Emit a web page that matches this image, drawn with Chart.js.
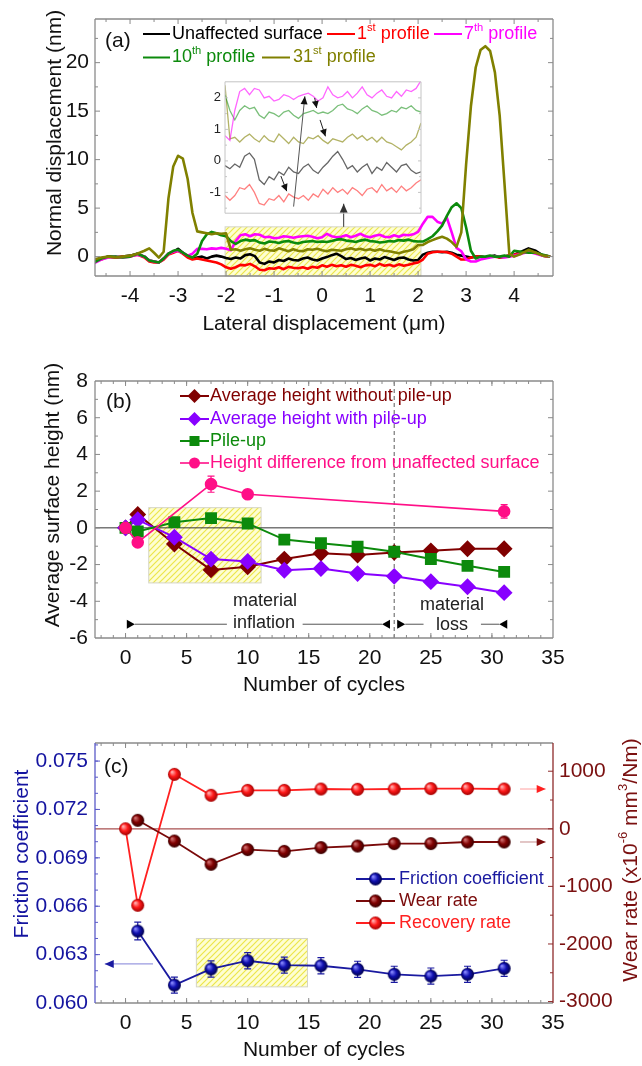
<!DOCTYPE html>
<html lang="en">
<head>
    <meta charset="UTF-8">
    <meta name="viewport" content="width=device-width, initial-scale=1.0">
    <title>Surface profiles, surface height and friction vs cycles</title>
    <script src="https://cdn.jsdelivr.net/npm/chart.js"></script>
    <style>
        body { margin: 0; background: #fff; }
        .figure { position: relative; width: 642px; height: 1066px; overflow: hidden; }
        .figure canvas { position: absolute; }
    </style>
</head>
<body>
    <div class="figure">
        <canvas id="chartA" width="642" height="340" style="left:0;top:0"></canvas>
        <canvas id="chartInset" width="235" height="155" style="left:195px;top:70px"></canvas>
        <canvas id="chartB" width="642" height="360" style="left:0;top:340px"></canvas>
        <canvas id="chartC" width="642" height="366" style="left:0;top:700px"></canvas>
    </div>

<script>
const FONT = '"Liberation Sans", Arial, Helvetica, sans-serif';

// ---- (a) line profiles (lateral position in um, height in nm) ----
const profileLeftX = [-4.75, -4.6, -4.45, -4.3, -4.15, -4.0, -3.85, -3.7, -3.6, -3.5, -3.4, -3.3, -3.2, -3.1, -3.0, -2.9, -2.8, -2.7, -2.6, -2.5, -2.4, -2.3, -2.2, -2.1];
const profileMidX = [-2.0, -1.9, -1.8, -1.7, -1.6, -1.5, -1.4, -1.3, -1.2, -1.1, -1.0, -0.9, -0.8, -0.7, -0.6, -0.5, -0.4, -0.3, -0.2, -0.1, 0.0,
    0.1, 0.2, 0.3, 0.4, 0.5, 0.6, 0.7, 0.8, 0.9, 1.0, 1.1, 1.2, 1.3, 1.4, 1.5, 1.6, 1.7, 1.8, 1.9, 2.0];
const profileRightX = [2.1, 2.2, 2.3, 2.4, 2.5, 2.6, 2.7, 2.8, 2.9, 3.0, 3.1, 3.2, 3.3, 3.4, 3.5, 3.6, 3.7, 3.8, 3.9, 4.0, 4.15, 4.3, 4.45, 4.6, 4.75];

const unaffectedLeft = [-0.6, -0.2, 0.0, -0.1, 0.0, 0.1, 0.3, 0.0, -0.4, -0.5, -0.6, -0.2, 0.3, 0.5, 0.8, 0.4, 0.0, -0.2, -0.1, 0.0, -0.2, 0.0, 0.1, 0.0];
const unaffectedMid = [-0.15, -0.25, -0.1, -0.2, 0.15, 0.25, 0.05, -0.6, -0.75, -0.5, -0.6, -0.35, -0.45, -0.2, -0.35, -0.4, -0.2, -0.1, -0.3, -0.4,
    -0.2, -0.05, 0.15, 0.3, 0.05, -0.25, -0.15, -0.35, -0.2, -0.1, -0.4, -0.2, -0.3, -0.05, -0.2, -0.35, -0.15, -0.1, -0.3, -0.4, -0.35];
const unaffectedRight = [0.2, 0.4, 0.5, 0.5, 0.45, 0.5, 0.4, 0.2, 0.1, 0.0, -0.1, 0.0, 0.0, -0.1, 0.0, 0.1, -0.1, 0.0, 0.1, 0.2, 0.5, 0.85, 0.6, 0.1, 0.0];

const firstLeft = [-0.5, -0.3, 0.0, -0.1, 0.0, 0.0, 0.2, -0.1, -0.5, -0.6, -0.6, -0.3, 0.2, 0.4, 0.6, 0.3, -0.1, -0.3, -0.2, -0.3, -0.4, -0.5, -0.6, -0.8];
const firstMid = [-1.1, -1.25, -1.1, -0.85, -0.9, -0.75, -1.0, -1.35, -1.4, -1.2, -1.25, -1.1, -1.3, -1.05, -1.15, -1.2, -1.1, -1.25, -1.05, -1.15,
    -0.9, -1.05, -0.85, -1.0, -0.9, -1.05, -0.85, -0.95, -1.1, -0.9, -0.85, -1.0, -0.75, -0.95, -0.85, -1.0, -0.8, -0.95, -0.85, -0.7, -0.6];
const firstRight = [-0.3, 0.3, 0.45, 0.5, 0.5, 0.45, 0.3, 0.0, -0.3, -0.3, -0.1, 0.0, 0.0, -0.1, 0.0, 0.0, -0.1, 0.0, 0.1, 0.2, 0.4, 0.5, 0.4, 0.1, 0.0];

const seventhLeft = [-0.7, -0.3, -0.1, 0.0, -0.1, 0.0, 0.2, 0.0, -0.4, -0.5, -0.6, -0.2, 0.3, 0.5, 0.6, 0.4, 0.1, 0.3, 0.8, 0.8, 0.75, 0.85, 0.8, 0.9];
const seventhMid = [0.8, 0.65, 1.6, 2.2, 2.3, 2.1, 2.3, 2.25, 2.0, 2.05, 1.9, 1.95, 2.1, 2.05, 1.95, 2.05, 2.1, 2.15, 2.05, 1.9,
    2.0, 2.35, 2.1, 2.0, 2.05, 2.2, 2.0, 2.15, 2.35, 2.1, 2.0, 2.15, 2.25, 2.05, 2.0, 2.2, 2.05, 2.25, 2.2, 2.3, 2.55];
const seventhRight = [3.4, 4.1, 4.1, 3.6, 3.4, 4.0, 2.5, 0.9, 0.55, -0.3, -0.5, -0.5, -0.3, -0.2, -0.1, 0.0, 0.0, -0.1, 0.0, 0.1, 0.3, 0.5, 0.3, 0.1, 0.0];

const tenthLeft = [-0.6, -0.2, 0.0, 0.0, -0.1, 0.0, 0.3, 0.0, -0.4, -0.5, -0.6, -0.2, 0.3, 0.6, 0.7, 0.4, 0.1, -0.1, 0.3, 1.6, 2.3, 2.55, 2.4, 2.2];
const tenthMid = [2.1, 1.6, 1.3, 1.6, 1.75, 1.65, 1.7, 1.45, 1.35, 1.55, 1.5, 1.4, 1.55, 1.6, 1.45, 1.35, 1.5, 1.55, 1.6, 1.5,
    1.55, 1.5, 1.6, 1.75, 1.8, 1.65, 1.6, 1.5, 1.65, 1.75, 1.6, 1.55, 1.45, 1.5, 1.6, 1.55, 1.7, 1.65, 1.75, 1.6, 1.55];
const tenthRight = [1.55, 1.8, 2.1, 2.6, 3.2, 4.2, 5.1, 5.5, 5.0, 3.0, 0.6, -0.2, 0.0, 0.0, 0.1, 0.0, 0.0, 0.1, 0.0, 0.6, 0.5, 0.4, 0.4, 0.2, 0.0];

const thirtyFirstLeft = [-0.3, -0.1, 0.0, -0.1, 0.0, 0.1, 0.3, 0.6, 0.85, 0.4, -0.1, 0.5, 6.0, 9.3, 10.4, 10.1, 8.0, 4.5, 2.6, 2.5, 2.4, 2.3, 2.4, 2.35];
const thirtyFirstMid = [2.4, 0.7, 0.75, 0.6, 0.75, 0.85, 0.7, 0.6, 0.8, 0.65, 0.6, 0.85, 0.7, 0.55, 0.75, 0.6, 0.55, 0.75, 0.7, 0.8,
    0.65, 0.55, 0.7, 0.65, 0.6, 0.75, 0.85, 0.7, 0.8, 0.65, 0.75, 0.6, 0.75, 0.6, 0.55, 0.45, 0.35, 0.5, 0.6, 0.75, 1.2];
const thirtyFirstRight = [1.2, 1.5, 1.7, 1.9, 2.05, 1.85, 1.5, 1.0, 2.5, 9.5, 15.5, 19.5, 21.3, 21.7, 21.2, 19.0, 14.5, 7.5, 0.3, 0.0, 0.3, 0.7, 0.4, 0.1, 0.0];

const aXTicks = [-4, -3, -2, -1, 0, 1, 2, 3, 4];
const aYTicks = [0, 5, 10, 15, 20];
const insetYTicks = [-1, 0, 1, 2];

// ---- (b) average surface height vs number of cycles ----
const cycles = [0, 1, 4, 7, 10, 13, 16, 19, 22, 25, 28, 31];
const heightNoPileUp = [0, 0.73, -0.88, -2.29, -2.12, -1.70, -1.39, -1.48, -1.34, -1.25, -1.14, -1.14];
const heightWithPileUp = [0, 0.44, -0.51, -1.70, -1.83, -2.31, -2.22, -2.49, -2.64, -2.93, -3.21, -3.53];
const pileUp = [0, -0.20, 0.31, 0.53, 0.24, -0.64, -0.84, -1.03, -1.30, -1.70, -2.07, -2.40];
const diffCycles = [0, 1, 7, 10, 31];
const heightDiff = [0, -0.79, 2.38, 1.83, 0.90];
const heightDiffErr = [0.15, 0.2, 0.44, 0.15, 0.37];
const bXTicks = [0, 5, 10, 15, 20, 25, 30, 35];
const bYTicks = [-6, -4, -2, 0, 2, 4, 6, 8];

// ---- (c) friction coefficient, wear rate and recovery rate ----
const frictionCycles = [1, 4, 7, 10, 13, 16, 19, 22, 25, 28, 31];
const friction = [0.06446, 0.06111, 0.06211, 0.06262, 0.06235, 0.06231, 0.06209, 0.06178, 0.06167, 0.06178, 0.06215];
const frictionErr = [0.00055, 0.0005, 0.0005, 0.0005, 0.0005, 0.0005, 0.0005, 0.0005, 0.0005, 0.0005, 0.0005];
const wearCycles = [1, 4, 7, 10, 13, 16, 19, 22, 25, 28, 31];
const wearRate = [148, -212, -616, -361, -391, -326, -299, -257, -257, -229, -229];
const recoveryCycles = [0, 1, 4, 7, 10, 13, 16, 19, 22, 25, 28, 31];
const recoveryRate = [0, -1328, 946, 582, 668, 668, 691, 686, 691, 698, 698, 691];
const cYTicks = [0.060, 0.063, 0.066, 0.069, 0.072, 0.075];
const cY2Ticks = [-3000, -2000, -1000, 0, 1000];

// ---------- helpers ----------
function xyData(xs, ys) { return xs.map((x, i) => ({ x: x, y: ys[i] })); }
function steps(from, to, step) {
    const out = [];
    for (let v = from; v <= to + 1e-9; v += step) out.push(+v.toFixed(6));
    return out;
}

function axis(min, max, values, size, extra) {
    const cfg = {
        type: 'linear', min: min, max: max,
        grid: { display: false, drawTicks: false },
        border: { display: false },
        ticks: { font: { family: FONT, size: 21 }, color: '#111', autoSkip: false, maxRotation: 0, padding: 8 },
        afterBuildTicks: s => { s.ticks = values.map(v => ({ value: v })); }
    };
    if (size.w) cfg.afterFit = s => { s.width = size.w; };
    if (size.h) cfg.afterFit = s => { s.height = size.h; };
    return Object.assign(cfg, extra || {});
}

function hatchPattern(ctx) {
    const c = document.createElement('canvas');
    c.width = c.height = 6;
    const g = c.getContext('2d');
    g.fillStyle = '#fefed2';
    g.fillRect(0, 0, 6, 6);
    g.strokeStyle = '#ece64a';
    g.lineWidth = 1.2;
    g.beginPath();
    g.moveTo(0, 6); g.lineTo(6, 0);
    g.moveTo(-3, 3); g.lineTo(3, -3);
    g.moveTo(3, 9); g.lineTo(9, 3);
    g.stroke();
    return ctx.createPattern(c, 'repeat');
}

function sphere(light, mid, dark, r) {
    const c = document.createElement('canvas');
    c.width = c.height = 2 * r + 2;
    const g = c.getContext('2d');
    const grad = g.createRadialGradient(r - 1.5, r - 1.5, 0.5, r + 1, r + 1, r);
    grad.addColorStop(0, light);
    grad.addColorStop(0.5, mid);
    grad.addColorStop(1, dark);
    g.fillStyle = grad;
    g.beginPath();
    g.arc(r + 1, r + 1, r, 0, Math.PI * 2);
    g.fill();
    return c;
}

function drawRich(ctx, parts, x, y, size, color, align) {
    const segs = (typeof parts === 'string' ? [parts] : parts).map(p => ({ sup: p[0] === '^', text: p[0] === '^' ? p.slice(1) : p }));
    let width = 0;
    segs.forEach(s => {
        ctx.font = (s.sup ? size * 0.62 : size) + 'px ' + FONT;
        s.w = ctx.measureText(s.text).width;
        width += s.w;
    });
    let cx = align === 'center' ? x - width / 2 : align === 'right' ? x - width : x;
    ctx.fillStyle = color;
    ctx.textAlign = 'left';
    ctx.textBaseline = 'middle';
    segs.forEach(s => {
        ctx.font = (s.sup ? size * 0.62 : size) + 'px ' + FONT;
        ctx.fillText(s.text, cx, s.sup ? y - size * 0.36 : y);
        cx += s.w;
    });
}

function drawText(ctx, t) {
    ctx.save();
    if (t.rot) {
        ctx.translate(t.x, t.y);
        ctx.rotate(-Math.PI / 2);
        drawRich(ctx, t.text, 0, 0, t.size || 21, t.color || '#111', 'center');
    } else {
        drawRich(ctx, t.text, t.x, t.y, t.size || 21, t.color || '#111', t.align || 'left');
    }
    ctx.restore();
}

function drawMarker(ctx, kind, x, y, color, img) {
    ctx.fillStyle = color;
    ctx.beginPath();
    if (kind === 'diamond') {
        ctx.moveTo(x - 7, y); ctx.lineTo(x, y - 7); ctx.lineTo(x + 7, y); ctx.lineTo(x, y + 7);
    } else if (kind === 'square') {
        ctx.rect(x - 5, y - 5, 10, 10);
    } else if (kind === 'circle') {
        ctx.arc(x, y, 5.5, 0, Math.PI * 2);
    }
    ctx.closePath();
    if (kind === 'image') ctx.drawImage(img, x - img.width / 2, y - img.height / 2);
    else ctx.fill();
}

function drawLegendItem(ctx, l) {
    ctx.save();
    ctx.strokeStyle = l.color;
    ctx.lineWidth = l.lw || 2;
    ctx.beginPath();
    ctx.moveTo(l.x1, l.y);
    ctx.lineTo(l.x2, l.y);
    ctx.stroke();
    if (l.marker) drawMarker(ctx, l.marker, (l.x1 + l.x2) / 2, l.y, l.color, l.img);
    drawRich(ctx, l.text, l.tx, l.y, l.size || 18, l.textColor || l.color, 'left');
    ctx.restore();
}

function arrowHead(ctx, x1, y1, x2, y2, len, half, color) {
    const a = Math.atan2(y2 - y1, x2 - x1);
    ctx.fillStyle = color;
    ctx.beginPath();
    ctx.moveTo(x2, y2);
    ctx.lineTo(x2 - len * Math.cos(a) + half * Math.sin(a), y2 - len * Math.sin(a) - half * Math.cos(a));
    ctx.lineTo(x2 - len * Math.cos(a) - half * Math.sin(a), y2 - len * Math.sin(a) + half * Math.cos(a));
    ctx.closePath();
    ctx.fill();
}

function toPx(chart, x, y, ax) {
    return [chart.scales.x.getPixelForValue(x), chart.scales[ax || 'y'].getPixelForValue(y)];
}

function drawMark(chart, m) {
    const ctx = chart.ctx;
    ctx.save();
    const [x1, y1] = toPx(chart, m.x1, m.y1, m.ax);
    if (m.k === 'tri') {
        ctx.fillStyle = m.color;
        ctx.beginPath();
        ctx.moveTo(x1, y1);
        ctx.lineTo(x1 - m.dir * 8, y1 - 4.5);
        ctx.lineTo(x1 - m.dir * 8, y1 + 4.5);
        ctx.closePath();
        ctx.fill();
    } else {
        const [x2, y2] = toPx(chart, m.x2, m.y2, m.ax);
        ctx.strokeStyle = m.color;
        ctx.lineWidth = m.w || 1;
        ctx.setLineDash(m.dash || []);
        ctx.beginPath();
        ctx.moveTo(x1, y1);
        ctx.lineTo(x2, y2);
        ctx.stroke();
        if (m.k === 'arrow') arrowHead(ctx, x1, y1, x2, y2, m.len || 8, m.half || 3.5, m.head || m.color);
    }
    ctx.restore();
}

function drawHatch(chart, h) {
    const ctx = chart.ctx;
    const [x1, y1] = toPx(chart, h.x1, h.y1, h.ax);
    const [x2, y2] = toPx(chart, h.x2, h.y2, h.ax);
    ctx.save();
    ctx.fillStyle = hatchPattern(ctx);
    ctx.fillRect(x1, y2, x2 - x1, y1 - y2);
    ctx.strokeStyle = '#d4d4c8';
    ctx.lineWidth = 1;
    ctx.strokeRect(x1, y2, x2 - x1, y1 - y2);
    ctx.restore();
}

function drawErrors(chart) {
    const ctx = chart.ctx;
    chart.data.datasets.forEach((ds, i) => {
        if (!ds.errors) return;
        const meta = chart.getDatasetMeta(i);
        const ys = chart.scales[ds.yAxisID || 'y'];
        ctx.save();
        ctx.strokeStyle = ds.borderColor;
        ctx.lineWidth = 1.2;
        meta.data.forEach((pt, j) => {
            const v = ds.data[j].y, e = ds.errors[j];
            const t = ys.getPixelForValue(v + e), b = ys.getPixelForValue(v - e);
            ctx.beginPath();
            ctx.moveTo(pt.x, t); ctx.lineTo(pt.x, b);
            ctx.moveTo(pt.x - 3.5, t); ctx.lineTo(pt.x + 3.5, t);
            ctx.moveTo(pt.x - 3.5, b); ctx.lineTo(pt.x + 3.5, b);
            ctx.stroke();
        });
        ctx.restore();
    });
}

// box around the plot with inward ticks on every side
function drawFrame(chart, f) {
    const ctx = chart.ctx;
    const { left, right, top, bottom } = chart.chartArea;
    const seg = (x1, y1, x2, y2, color, w) => {
        ctx.strokeStyle = color; ctx.lineWidth = w;
        ctx.beginPath(); ctx.moveTo(x1, y1); ctx.lineTo(x2, y2); ctx.stroke();
    };
    ctx.save();
    const lw = f.width || 1.3;
    const major = f.len || 5, minor = f.minorLen || 3;
    if (f.x) {
        const xs = chart.scales.x;
        [[f.x.major, major], [f.x.minor, minor]].forEach(([vals, len]) => vals.forEach(v => {
            const p = xs.getPixelForValue(v);
            if (p < left + 1 || p > right - 1) return;
            seg(p, bottom, p, bottom - len, f.color, 1);
            seg(p, top, p, top + len, f.color, 1);
        }));
    }
    [['left', left, 1], ['right', right, -1]].forEach(([side, x, dir]) => {
        const s = f[side];
        if (!s) return;
        const sc = chart.scales[s.axis];
        const col = f[side + 'Color'] || f.color;
        [[s.major, major], [s.minor, minor]].forEach(([vals, len]) => vals.forEach(v => {
            const p = sc.getPixelForValue(v);
            if (p < top + 1 || p > bottom - 1) return;
            seg(x, p, x + dir * len, p, col, 1);
        }));
    });
    seg(left, top, right, top, f.color, lw);
    seg(left, bottom, right, bottom, f.color, lw);
    seg(left, top, left, bottom, f.leftColor || f.color, lw);
    seg(right, top, right, bottom, f.rightColor || f.color, lw);
    ctx.restore();
}

function makeDeco(cfg) {
    return {
        id: 'deco',
        beforeDatasetsDraw(chart) {
            (cfg.hatch || []).forEach(h => drawHatch(chart, h));
            (cfg.under || []).forEach(m => drawMark(chart, m));
            drawErrors(chart);
        },
        afterDatasetsDraw(chart) {
            if (cfg.frame) drawFrame(chart, cfg.frame);
            (cfg.over || []).forEach(m => drawMark(chart, m));
        },
        afterDraw(chart) {
            (cfg.legend || []).forEach(l => drawLegendItem(chart.ctx, l));
            (cfg.texts || []).forEach(t => drawText(chart.ctx, t));
        }
    };
}

const common = {
    responsive: false,
    animation: false,
    events: [],
    plugins: { legend: { display: false }, tooltip: { enabled: false } }
};

// ---------- (a) ----------
const profileX = [...profileLeftX, ...profileMidX, ...profileRightX];
function profile(label, ys, color, order) {
    return { label: label, data: xyData(profileX, ys), borderColor: color, borderWidth: 2.6, pointRadius: 0, showLine: true, order: order,
        borderJoinStyle: 'round' };
}

new Chart(document.getElementById('chartA'), {
    type: 'scatter',
    data: {
        datasets: [
            profile('Unaffected surface', [...unaffectedLeft, ...unaffectedMid, ...unaffectedRight], '#000000', 4),
            profile('1st profile', [...firstLeft, ...firstMid, ...firstRight], '#ff0000', 3),
            profile('7th profile', [...seventhLeft, ...seventhMid, ...seventhRight], '#ff00ff', 2),
            profile('10th profile', [...tenthLeft, ...tenthMid, ...tenthRight], '#0c8a0c', 1),
            profile('31st profile', [...thirtyFirstLeft, ...thirtyFirstMid, ...thirtyFirstRight], '#808000', 0)
        ]
    },
    options: Object.assign({}, common, {
        layout: { padding: { top: 19, right: 89, left: 0, bottom: 0 } },
        scales: {
            x: axis(-4.73, 4.81, aXTicks, { h: 64 }),
            y: axis(-2, 24.5, aYTicks, { w: 95 }, { ticks: { font: { family: FONT, size: 21 }, color: '#111', autoSkip: false, padding: 6 } })
        }
    }),
    plugins: [makeDeco({
        hatch: [{ x1: -2.02, x2: 2.06, y1: -2, y2: 3.07 }],
        over: [{ k: 'arrow', x1: 0.45, y1: 3.07, x2: 0.45, y2: 5.45, color: '#333', w: 1, len: 9, half: 4 }],
        frame: { color: '#8a8a8a', x: { major: aXTicks, minor: steps(-4.5, 4.5, 1) },
            left: { axis: 'y', major: aYTicks, minor: [2.5, 7.5, 12.5, 17.5, 22.5] },
            right: { axis: 'y', major: aYTicks, minor: [2.5, 7.5, 12.5, 17.5, 22.5] } },
        legend: [
            { x1: 143, x2: 170, y: 34, color: '#000000', text: ['Unaffected surface'], tx: 172 },
            { x1: 327, x2: 355, y: 34, color: '#ff0000', text: ['1', '^st', ' profile'], tx: 357 },
            { x1: 434, x2: 462, y: 34, color: '#ff00ff', text: ['7', '^th', ' profile'], tx: 464 },
            { x1: 143, x2: 170, y: 57.5, color: '#0c8a0c', text: ['10', '^th', ' profile'], tx: 172 },
            { x1: 262, x2: 290, y: 57.5, color: '#808000', text: ['31', '^st', ' profile'], tx: 293 }
        ],
        texts: [
            { text: '(a)', x: 105, y: 41 },
            { text: 'Lateral displacement (\u03bcm)', x: 324, y: 324, align: 'center' },
            { text: 'Normal displacement (nm)', x: 55, y: 133, rot: true }
        ]
    })]
});

// ---------- inset of (a) ----------
function insetLine(ys, color) {
    return { data: xyData(profileMidX, ys), borderColor: color, borderWidth: 1.3, pointRadius: 0, showLine: true };
}

new Chart(document.getElementById('chartInset'), {
    type: 'scatter',
    data: {
        datasets: [
            insetLine(seventhMid, 'rgba(255,0,255,0.6)'),
            insetLine(tenthMid, 'rgba(12,138,12,0.55)'),
            insetLine(thirtyFirstMid, 'rgba(128,128,0,0.6)'),
            insetLine(unaffectedMid, 'rgba(0,0,0,0.6)'),
            insetLine(firstMid, 'rgba(255,0,0,0.5)')
        ]
    },
    options: Object.assign({}, common, {
        layout: { padding: { top: 7, right: 9, left: 0, bottom: 6 } },
        scales: {
            x: { type: 'linear', min: -2, max: 2, display: false },
            y: axis(-1.66, 2.51, insetYTicks, { w: 30 }, { ticks: { font: { family: FONT, size: 13 }, color: '#222', autoSkip: false, padding: 4 } })
        }
    }),
    plugins: [makeDeco({
        frame: { color: '#c4c4c4', width: 1, len: 3, minorLen: 2,
            left: { axis: 'y', major: insetYTicks, minor: [-1.5, -0.5, 0.5, 1.5] },
            right: { axis: 'y', major: insetYTicks, minor: [-1.5, -0.5, 0.5, 1.5] } },
        over: [
            { k: 'arrow', x1: -0.6, y1: -1.45, x2: -0.37, y2: 2.05, color: '#555', w: 1, head: '#111', len: 8, half: 3.5 },
            { k: 'arrow', x1: -0.17, y1: 2.0, x2: -0.13, y2: 1.68, color: '#222', w: 1, head: '#111', len: 7, half: 3.5 },
            { k: 'arrow', x1: -0.06, y1: 1.3, x2: 0.05, y2: 0.78, color: '#222', w: 1, head: '#111', len: 7, half: 3.5 },
            { k: 'arrow', x1: -0.86, y1: -0.48, x2: -0.74, y2: -0.96, color: '#222', w: 1, head: '#111', len: 7, half: 3.5 }
        ]
    })]
});

// ---------- (b) ----------
new Chart(document.getElementById('chartB'), {
    type: 'scatter',
    data: {
        datasets: [
            { label: 'Average height without pile-up', data: xyData(cycles, heightNoPileUp), borderColor: '#800000', backgroundColor: '#800000',
                pointStyle: 'rectRot', pointRadius: 7, borderWidth: 2, showLine: true, order: 3 },
            { label: 'Average height with pile-up', data: xyData(cycles, heightWithPileUp), borderColor: '#8800ff', backgroundColor: '#8800ff',
                pointStyle: 'rectRot', pointRadius: 7, borderWidth: 2, showLine: true, order: 2 },
            { label: 'Pile-up', data: xyData(cycles, pileUp), borderColor: '#0c8a0c', backgroundColor: '#0c8a0c',
                pointStyle: 'rect', pointRadius: 7, borderWidth: 2, showLine: true, order: 1 },
            { label: 'Height difference from unaffected surface', data: xyData(diffCycles, heightDiff), errors: heightDiffErr,
                borderColor: '#ff0f87', backgroundColor: '#ff0f87', pointStyle: 'circle', pointRadius: 5.5, borderWidth: 1.6, showLine: true, order: 0 }
        ]
    },
    options: Object.assign({}, common, {
        layout: { padding: { top: 41, right: 89, left: 0, bottom: 0 } },
        scales: {
            x: axis(-2.5, 35, bXTicks, { h: 62 }),
            y: axis(-6, 8, bYTicks, { w: 95 }, { ticks: { font: { family: FONT, size: 21 }, color: '#111', autoSkip: false, padding: 7 } })
        }
    }),
    plugins: [makeDeco({
        hatch: [{ x1: 1.9, x2: 11.1, y1: -3.0, y2: 1.1 }],
        under: [
            { k: 'line', x1: -2.5, y1: 0, x2: 35, y2: 0, color: '#333', w: 1 },
            { k: 'line', x1: 22, y1: -6, x2: 22, y2: 8, color: '#777', w: 1.2, dash: [4, 3] },
            { k: 'line', x1: 0.76, y1: -5.25, x2: 8.3, y2: -5.25, color: '#555', w: 1 },
            { k: 'line', x1: 14.5, y1: -5.25, x2: 21.0, y2: -5.25, color: '#555', w: 1 },
            { k: 'line', x1: 22.9, y1: -5.25, x2: 24.4, y2: -5.25, color: '#555', w: 1 },
            { k: 'line', x1: 29.1, y1: -5.25, x2: 30.6, y2: -5.25, color: '#555', w: 1 },
            { k: 'tri', x1: 0.76, y1: -5.25, dir: 1, color: '#000' },
            { k: 'tri', x1: 21.0, y1: -5.25, dir: -1, color: '#000' },
            { k: 'tri', x1: 22.9, y1: -5.25, dir: 1, color: '#000' },
            { k: 'tri', x1: 30.6, y1: -5.25, dir: -1, color: '#000' }
        ],
        frame: { color: '#8a8a8a', x: { major: bXTicks, minor: steps(-2, 34, 1) },
            left: { axis: 'y', major: bYTicks, minor: steps(-5, 7, 2) },
            right: { axis: 'y', major: bYTicks, minor: steps(-5, 7, 2) } },
        legend: [
            { x1: 180, x2: 209, y: 56, color: '#800000', marker: 'diamond', text: 'Average height without pile-up', tx: 210 },
            { x1: 180, x2: 209, y: 79, color: '#8800ff', marker: 'diamond', text: 'Average height with pile-up', tx: 210 },
            { x1: 180, x2: 209, y: 101, color: '#0c8a0c', marker: 'square', text: 'Pile-up', tx: 210 },
            { x1: 180, x2: 209, y: 123, color: '#ff0f87', marker: 'circle', text: 'Height difference from unaffected surface', tx: 210, lw: 1.6 }
        ],
        texts: [
            { text: '(b)', x: 106, y: 62 },
            { text: 'material', x: 265, y: 261, size: 18, align: 'center', color: '#222' },
            { text: 'inflation', x: 264, y: 283, size: 18, align: 'center', color: '#222' },
            { text: 'material', x: 452, y: 265, size: 18, align: 'center', color: '#222' },
            { text: 'loss', x: 452, y: 285, size: 18, align: 'center', color: '#222' },
            { text: 'Number of cycles', x: 324, y: 345, align: 'center' },
            { text: 'Average surface height (nm)', x: 53, y: 155, rot: true }
        ]
    })]
});

// ---------- (c) ----------
const blueBall = sphere('#8a8aff', '#1010b0', '#00004a', 6.5);
const maroonBall = sphere('#d07070', '#800000', '#380000', 6.5);
const redBall = sphere('#ffb0b0', '#ff1a1a', '#a00000', 6.5);

new Chart(document.getElementById('chartC'), {
    type: 'scatter',
    data: {
        datasets: [
            { label: 'Friction coefficient', data: xyData(frictionCycles, friction), errors: frictionErr, yAxisID: 'y',
                borderColor: '#1a1aa0', pointStyle: blueBall, borderWidth: 1.8, showLine: true, order: 0 },
            { label: 'Wear rate', data: xyData(wearCycles, wearRate), yAxisID: 'y2',
                borderColor: '#7a0a0a', pointStyle: maroonBall, borderWidth: 1.8, showLine: true, order: 1 },
            { label: 'Recovery rate', data: xyData(recoveryCycles, recoveryRate), yAxisID: 'y2',
                borderColor: '#ff2020', pointStyle: redBall, borderWidth: 1.8, showLine: true, order: 2 }
        ]
    },
    options: Object.assign({}, common, {
        layout: { padding: { top: 43, right: 0, left: 0, bottom: 0 } },
        scales: {
            x: axis(-2.5, 35, bXTicks, { h: 63 }),
            y: axis(0.060, 0.07612, cYTicks, { w: 95 }, { position: 'left',
                ticks: { font: { family: FONT, size: 21 }, color: '#1414a0', autoSkip: false, padding: 7, callback: v => v.toFixed(3) } }),
            y2: axis(-3025, 1490, cY2Ticks, { w: 89 }, { position: 'right',
                ticks: { font: { family: FONT, size: 21 }, color: '#7a1010', autoSkip: false, padding: 6, callback: v => String(v) } })
        }
    }),
    plugins: [makeDeco({
        hatch: [{ x1: 5.8, x2: 14.9, y1: 0.0610, y2: 0.0640 }],
        under: [
            { k: 'line', x1: -2.5, y1: 0, x2: 35, y2: 0, ax: 'y2', color: '#a85050', w: 1.2 }
        ],
        over: [
            { k: 'arrow', x1: 2.25, y1: 0.06242, x2: -1.7, y2: 0.06242, color: '#9a9ae0', head: '#1a1aa0', w: 1.2, len: 9, half: 4 },
            { k: 'arrow', x1: 32.3, y1: 691, x2: 34.4, y2: 691, ax: 'y2', color: '#ffb0b0', head: '#ff2020', w: 1.2, len: 9, half: 4 },
            { k: 'arrow', x1: 32.3, y1: -229, x2: 34.4, y2: -229, ax: 'y2', color: '#d0a0a0', head: '#7a0a0a', w: 1.2, len: 9, half: 4 }
        ],
        frame: { color: '#8a8a8a', leftColor: '#5a5ac8', rightColor: '#8e2a2a', x: { major: bXTicks, minor: steps(-2, 34, 1) },
            left: { axis: 'y', major: cYTicks, minor: steps(0.061, 0.076, 0.001) },
            right: { axis: 'y2', major: cY2Ticks, minor: [-2500, -1500, -500, 500] } },
        legend: [
            { x1: 356, x2: 395, y: 179, color: '#1a1aa0', marker: 'image', img: blueBall, text: 'Friction coefficient', tx: 399, lw: 1.8 },
            { x1: 356, x2: 395, y: 201, color: '#7a0a0a', marker: 'image', img: maroonBall, text: 'Wear rate', tx: 399, lw: 1.8 },
            { x1: 356, x2: 395, y: 223, color: '#ff2020', marker: 'image', img: redBall, text: 'Recovery rate', tx: 399, lw: 1.8 }
        ],
        texts: [
            { text: '(c)', x: 104, y: 67 },
            { text: 'Number of cycles', x: 324, y: 350, align: 'center' },
            { text: 'Friction coefficient', x: 22, y: 154, rot: true, color: '#1414a0' },
            { text: ['Wear rate (x10', '^-6', ' mm', '^3', '/Nm)'], x: 631, y: 160, rot: true, color: '#7a1010' }
        ]
    })]
});
</script>
</body>
</html>
